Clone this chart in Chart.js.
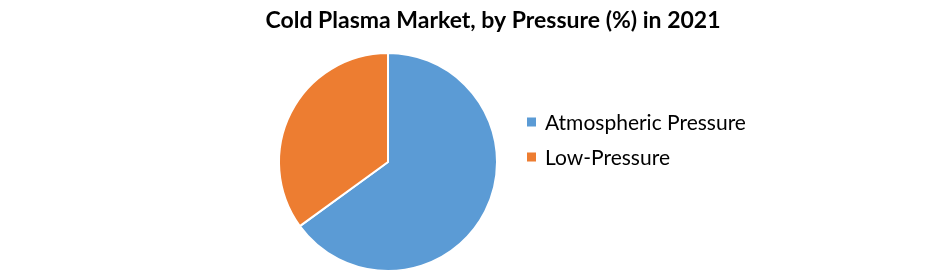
<!DOCTYPE html>
<html>
<head>
<meta charset="utf-8">
<script src="https://cdn.jsdelivr.net/npm/chart.js@4"></script>
<style>
  html, body { margin: 0; padding: 0; background: #fff; }
  #wrap { width: 941px; height: 274px; }
</style>
</head>
<body>
<div id="wrap"><canvas id="pressureChart" width="941" height="274"></canvas></div>
<script>
const chartTitle = 'Cold Plasma Market, by Pressure (%) in 2021';
const categories = ['Atmospheric Pressure', 'Low-Pressure'];
const shares = [65, 35];
const sliceColors = ['#5B9BD5', '#ED7D31'];

// title across the full width + legend to the right of the pie, like the original
const sideLegend = {
  id: 'sideLegend',
  afterDraw(chart) {
    const c = chart.ctx;
    c.save();
    c.fillStyle = '#000';
    c.textBaseline = 'alphabetic';
    c.textAlign = 'center';
    c.font = 'bold 23px Lato, "Open Sans", sans-serif';
    c.fillText(chartTitle, 493, 28);

    c.textAlign = 'left';
    c.textBaseline = 'middle';
    c.font = '21px Lato, "Open Sans", sans-serif';
    chart.data.labels.forEach((label, i) => {
      const y = 122 + i * 35;
      c.fillStyle = sliceColors[i];
      c.fillRect(527, y - 4.5, 9, 9);
      c.fillStyle = '#000';
      c.fillText(label, 545, y + 1);
    });
    c.restore();
  }
};

const ctx = document.getElementById('pressureChart').getContext('2d');
const pressureChart = new Chart(ctx, {
  type: 'pie',
  data: {
    labels: categories,
    datasets: [{
      data: shares,
      backgroundColor: sliceColors,
      borderColor: '#fff',
      borderWidth: 2,
    }]
  },
  options: {
    responsive: false,
    animation: false,
    layout: {
      padding: { left: 278, right: 443, top: 52, bottom: 2 },
    },
    plugins: {
      legend: { display: false },
      tooltip: { enabled: false },
      title: { display: false },
    },
  },
  plugins: [sideLegend],
});
</script>
</body>
</html>
